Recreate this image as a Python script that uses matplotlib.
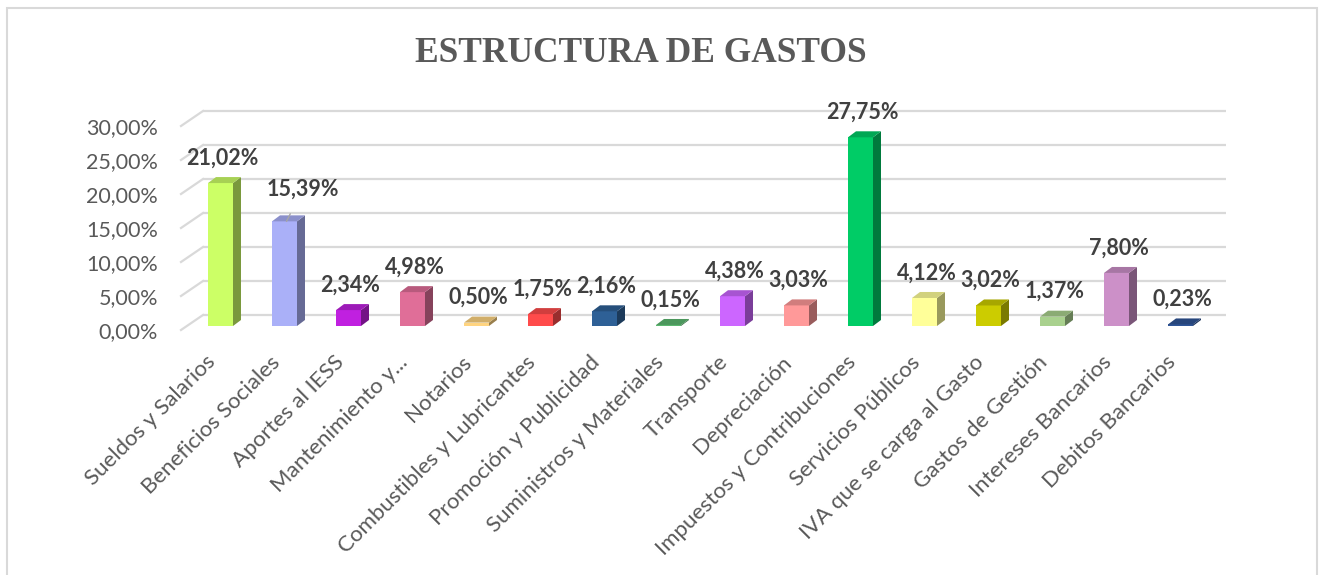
import matplotlib
matplotlib.use("Agg")
import matplotlib.pyplot as plt
from matplotlib.patches import Polygon, Rectangle
import matplotlib.colors as mcolors

categorias = ["Sueldos y Salarios", "Beneficios Sociales", "Aportes al IESS",
              "Mantenimiento y...", "Notarios", "Combustibles y Lubricantes",
              "Promoción y Publicidad", "Suministros y Materiales", "Transporte",
              "Depreciación", "Impuestos y Contribuciones", "Servicios Públicos",
              "IVA que se carga al Gasto", "Gastos de Gestión", "Intereses Bancarios",
              "Debitos Bancarios"]
valores = [21.02, 15.39, 2.34, 4.98, 0.50, 1.75, 2.16, 0.15, 4.38, 3.03,
           27.75, 4.12, 3.02, 1.37, 7.80, 0.23]
colores = ["#CCFF66", "#AAB0F8", "#C020E0", "#E06E98", "#FFD480", "#FF4B4B",
           "#2E6096", "#5CB870", "#CC66FF", "#FF9999", "#00CC66", "#FFFF99",
           "#CCCC00", "#A9D18E", "#CC90C8", "#2F5597"]
yticks = [0, 5, 10, 15, 20, 25, 30]

W, H = 1320, 575
fig = plt.figure(figsize=(W / 100, H / 100), dpi=100)

# pixel layout: bar i centre at 220.5 + 64*i, value v at 326 - 6.8*v (from top)
PX_X, PX_Y = 64.0, 6.8
x0_px, y0_px = 220.5, 326.0
left, right, top, bottom = 150, 1250, 95, 345
ax = fig.add_axes([left / W, (H - bottom) / H, (right - left) / W, (bottom - top) / H])
ax.set_xlim((left - x0_px) / PX_X, (right - x0_px) / PX_X)
ax.set_ylim((y0_px - bottom) / PX_Y, (y0_px - top) / PX_Y)
for s in ax.spines.values():
    s.set_visible(False)
ax.tick_params(length=0)
ax.set_yticks([])

def dx(px):
    return px / PX_X

def dy(px):
    return px / PX_Y

# back wall gridlines with slanted floor/side edge
gx0 = dx(203 - x0_px)
gx1 = dx(1226 - x0_px)
for v in yticks:
    yb = v + dy(11)
    ax.plot([gx0, gx1], [yb, yb], color="#d9d9d9", lw=1.6, zorder=1, solid_capstyle="butt")
    ax.plot([gx0, gx0 - dx(22)], [yb, yb - dy(15)], color="#d9d9d9", lw=1.6, zorder=1)
    ax.text(dx(158 - x0_px), v - 0.85, f"{v:.2f}%".replace(".", ","), ha="right", va="center",
            fontsize=15.5, color="#595959", family="Lato")

# 3D-looking bars
bw = 25 / PX_X
ddx, ddy = dx(8), dy(6)
for i, (v, c) in enumerate(zip(valores, colores)):
    rgb = mcolors.to_rgb(c)
    top_c = tuple(k * 0.82 for k in rgb)
    side_c = tuple(k * 0.6 for k in rgb)
    xl, xr = i - bw / 2, i + bw / 2
    ax.bar(i, v, width=bw, color=c, zorder=3, linewidth=0)
    ax.add_patch(Polygon([(xr, 0), (xr + ddx, ddy), (xr + ddx, v + ddy), (xr, v)],
                         closed=True, facecolor=side_c, edgecolor="none", zorder=3))
    ax.add_patch(Polygon([(xl, v), (xr, v), (xr + ddx, v + ddy), (xl + ddx, v + ddy)],
                         closed=True, facecolor=top_c, edgecolor="none", zorder=3))
    lab = f"{v:.2f}%".replace(".", ",")
    if i == 1:
        ax.annotate(lab, (i + dx(2), v), xytext=(i + dx(18), v + dy(32)),
                    ha="center", va="center", fontsize=15.5, fontweight="bold",
                    color="#404040", family="Lato", zorder=5,
                    arrowprops=dict(arrowstyle="-", color="#a6a6a6", lw=1,
                                    shrinkA=9, shrinkB=0))
    else:
        ax.text(i + dx(2), v + dy(25), lab, ha="center", va="center", fontsize=15.5,
                fontweight="bold", color="#404040", family="Lato", zorder=5)

# category labels, text end just left of each bar
tick_pos = [i - dx(15) for i in range(len(categorias))]
ax.set_xticks(tick_pos)
ax.set_xticklabels(categorias, rotation=45, ha="right", va="top", rotation_mode="anchor",
                   fontsize=16, color="#595959", family="Lato")
ax.tick_params(axis="x", pad=5)

fig.text(641 / W, 1 - 53 / H, "ESTRUCTURA DE GASTOS", ha="center", va="center",
         fontsize=25.5, fontweight="bold", color="#595959", family="Liberation Serif")

fig.add_artist(Rectangle((7 / W, -0.01), (1317 - 7) / W, (H - 8) / H + 0.01,
                         transform=fig.transFigure, fill=False, edgecolor="#d9d9d9", lw=1.5))

fig.savefig("out.png", dpi=100)
